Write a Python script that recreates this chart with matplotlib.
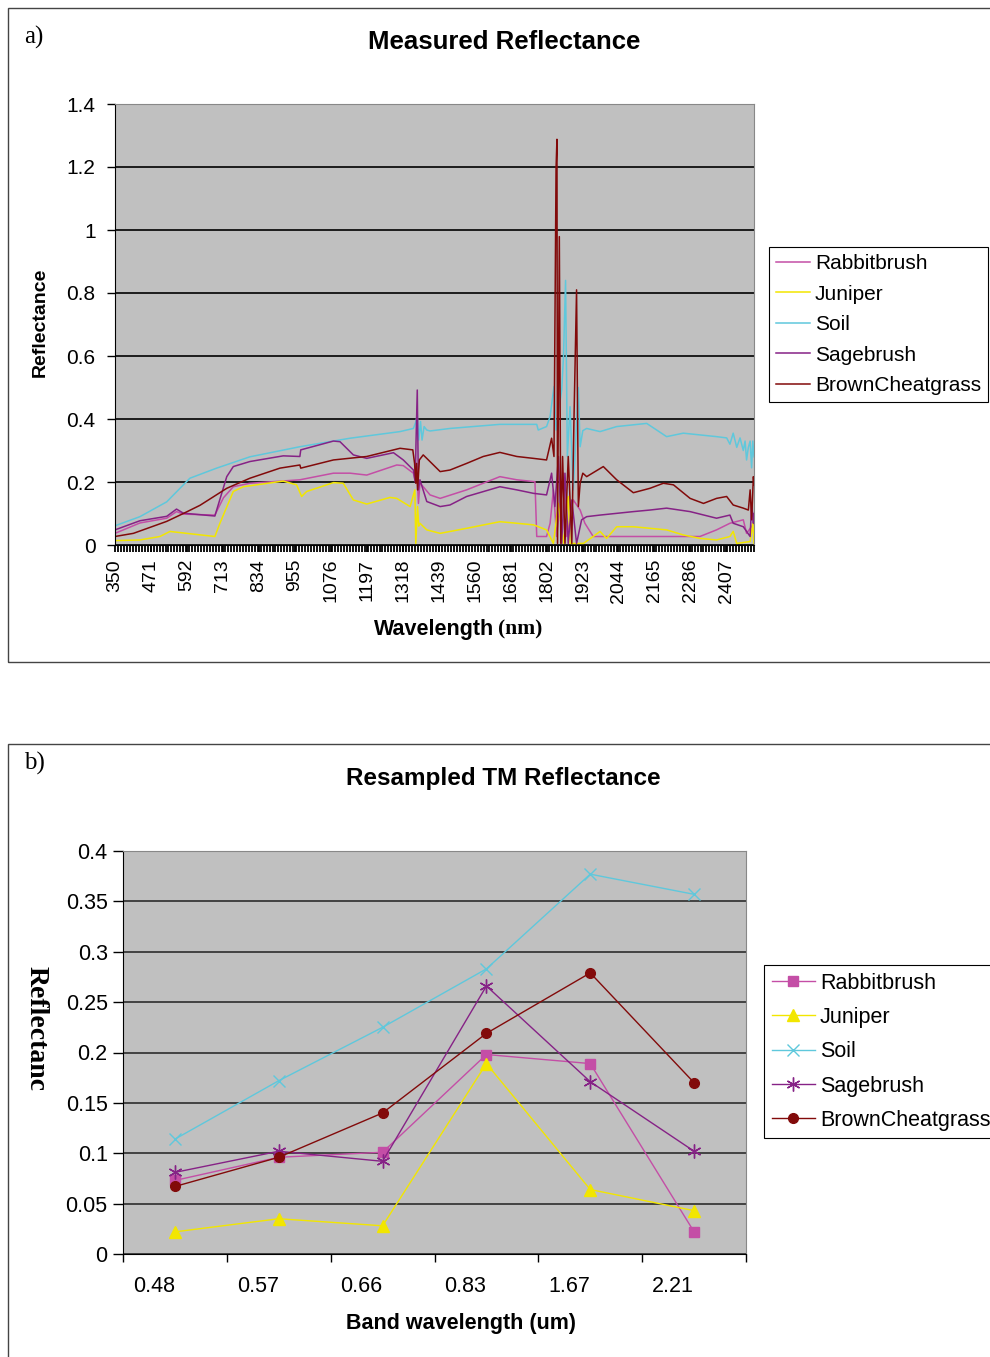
import numpy as np
import matplotlib.pyplot as plt
from matplotlib.patches import Rectangle
from matplotlib.transforms import ScaledTranslation
from matplotlib.ticker import MultipleLocator

plt.rcParams['font.family'] = 'Liberation Sans'

# --- a) field spectra (wavelength in nm, reflectance) ---
rabbit_wl = [350, 434, 524, 557, 580, 686, 715, 748, 804, 972, 1085, 1141, 1197, 1298, 1320,
             1354, 1359, 1365, 1371, 1376, 1387, 1410, 1444, 1533, 1645, 1702, 1763, 1769,
             1802, 1814, 1825, 1836, 1859, 1870, 1892, 1915, 1931, 1959, 2318, 2374, 2419,
             2464, 2475, 2500]
rabbit_val = [0.037, 0.070, 0.085, 0.106, 0.098, 0.095, 0.150, 0.185, 0.196, 0.207, 0.228,
              0.228, 0.222, 0.254, 0.252, 0.228, 0.207, 0.249, 0.132, 0.196, 0.185, 0.159,
              0.148, 0.175, 0.217, 0.207, 0.201, 0.027, 0.027, 0.069, 0.175, 0.027, 0.228,
              0.027, 0.143, 0.111, 0.069, 0.027, 0.027, 0.048, 0.069, 0.080, 0.037, 0.069]

junip_wl = [350, 434, 501, 535, 591, 686, 703, 748, 782, 916, 961, 978, 995, 1085, 1118, 1152,
            1197, 1275, 1298, 1343, 1359, 1362, 1368, 1372, 1376, 1399, 1444, 1533, 1645,
            1702, 1758, 1802, 1825, 1842, 1859, 1875, 1881, 1926, 1959, 1982, 2004, 2038,
            2094, 2150, 2206, 2262, 2318, 2374, 2419, 2430, 2442, 2487, 2496, 2500]
junip_val = [0.014, 0.016, 0.027, 0.043, 0.037, 0.027, 0.069, 0.170, 0.185, 0.203, 0.191,
             0.154, 0.170, 0.198, 0.196, 0.143, 0.130, 0.151, 0.148, 0.122, 0.175, 0.005,
             0.122, 0.060, 0.069, 0.048, 0.037, 0.053, 0.074, 0.069, 0.064, 0.048, 0.005,
             0.132, 0.005, 0.154, 0.005, 0.005, 0.027, 0.043, 0.021, 0.058, 0.058, 0.053,
             0.048, 0.032, 0.021, 0.016, 0.027, 0.043, 0.005, 0.011, 0.069, 0.005]

soil_wl = [350, 434, 524, 602, 692, 804, 972, 1141, 1309, 1354, 1362, 1367, 1372, 1378, 1383,
           1390, 1399, 1410, 1477, 1645, 1769, 1774, 1802, 1814, 1827, 1834, 1853, 1859, 1866,
           1872, 1881, 1892, 1909, 1915, 1924, 1937, 1982, 2038, 2139, 2206, 2262, 2374, 2408,
           2419, 2430, 2442, 2453, 2464, 2470, 2475, 2481, 2487, 2492, 2496, 2500]
soil_val = [0.061, 0.090, 0.137, 0.212, 0.244, 0.280, 0.312, 0.339, 0.360, 0.370, 0.390,
            0.413, 0.333, 0.392, 0.333, 0.376, 0.365, 0.362, 0.370, 0.383, 0.383, 0.365,
            0.376, 0.408, 0.503, 0.365, 0.492, 0.598, 0.840, 0.281, 0.439, 0.175, 0.500,
            0.312, 0.363, 0.370, 0.360, 0.376, 0.386, 0.344, 0.355, 0.344, 0.340, 0.320,
            0.355, 0.310, 0.340, 0.300, 0.330, 0.270, 0.310, 0.330, 0.245, 0.330, 0.280]

sage_wl = [350, 434, 524, 557, 580, 686, 726, 748, 804, 916, 972, 975, 1085, 1107, 1152, 1197,
           1287, 1320, 1354, 1360, 1363, 1367, 1371, 1376, 1399, 1444, 1477, 1533, 1645, 1702,
           1758, 1802, 1814, 1819, 1830, 1842, 1853, 1864, 1875, 1887, 1903, 1920, 1937, 1982,
           2094, 2150, 2206, 2285, 2374, 2419, 2430, 2464, 2487, 2492, 2498, 2500]
sage_val = [0.048, 0.077, 0.091, 0.114, 0.101, 0.092, 0.217, 0.249, 0.265, 0.283, 0.281,
            0.302, 0.330, 0.328, 0.286, 0.275, 0.293, 0.270, 0.238, 0.200, 0.334, 0.492,
            0.175, 0.207, 0.138, 0.122, 0.127, 0.154, 0.185, 0.175, 0.164, 0.159, 0.207,
            0.228, 0.122, 0.281, 0.005, 0.228, 0.005, 0.143, 0.005, 0.080, 0.090, 0.095,
            0.106, 0.111, 0.117, 0.106, 0.085, 0.095, 0.069, 0.058, 0.027, 0.132, 0.069, 0.100]

brown_wl = [350, 412, 524, 580, 636, 726, 804, 905, 972, 975, 1085, 1197, 1309, 1352, 1358,
            1362, 1365, 1368, 1374, 1387, 1399, 1444, 1477, 1533, 1589, 1645, 1702, 1758,
            1802, 1819, 1827, 1834, 1837, 1839, 1845, 1850, 1856, 1864, 1875, 1887, 1894,
            1903, 1909, 1915, 1924, 1937, 1993, 2038, 2094, 2150, 2195, 2229, 2285, 2330,
            2374, 2408, 2430, 2464, 2481, 2487, 2492, 2498, 2500]
brown_val = [0.027, 0.037, 0.075, 0.100, 0.126, 0.180, 0.212, 0.244, 0.254, 0.244, 0.270,
             0.281, 0.307, 0.302, 0.259, 0.196, 0.259, 0.175, 0.270, 0.286, 0.275, 0.233,
             0.238, 0.259, 0.281, 0.294, 0.281, 0.275, 0.270, 0.339, 0.281, 1.196, 1.288,
             0.005, 0.979, 0.005, 0.281, 0.005, 0.281, 0.005, 0.386, 0.810, 0.122, 0.196,
             0.228, 0.217, 0.249, 0.207, 0.166, 0.180, 0.196, 0.191, 0.148, 0.132, 0.148,
             0.154, 0.127, 0.117, 0.111, 0.175, 0.080, 0.217, 0.190]

# --- b) TM band averages ---
bands = ['0.48', '0.57', '0.66', '0.83', '1.67', '2.21']
rabbit_tm = [0.073, 0.096, 0.101, 0.198, 0.189, 0.022]
junip_tm = [0.022, 0.035, 0.028, 0.189, 0.064, 0.043]
soil_tm = [0.114, 0.172, 0.225, 0.283, 0.377, 0.357]
sage_tm = [0.081, 0.102, 0.092, 0.266, 0.171, 0.102]
brown_tm = [0.067, 0.096, 0.140, 0.219, 0.279, 0.170]

names = ['Rabbitbrush', 'Juniper', 'Soil', 'Sagebrush', 'BrownCheatgrass']
colors = ['#C44EA6', '#F2E600', '#5FC8DC', '#862286', '#820A0A']

W, H = 990, 1357
fig = plt.figure(figsize=(W / 100, H / 100), dpi=100)


def fx(px):
    return px / W


def fy(py):
    return 1 - py / H


# panel frames
fig.patches.append(Rectangle((fx(8), fy(662)), 1.2, fy(8) - fy(662), transform=fig.transFigure,
                             fill=False, edgecolor='#444444', lw=1))
fig.patches.append(Rectangle((fx(8), fy(1420)), 1.2, fy(744) - fy(1420), transform=fig.transFigure,
                             fill=False, edgecolor='#444444', lw=1))

# ---------------- a) ----------------
ax1 = fig.add_axes([fx(115), fy(545), fx(754) - fx(115), fy(104) - fy(545)])
ax1.set_facecolor('#C0C0C0')
ax1.set_axisbelow(True)
for wl, val, c, n in zip([rabbit_wl, junip_wl, soil_wl, sage_wl, brown_wl],
                         [rabbit_val, junip_val, soil_val, sage_val, brown_val], colors, names):
    ax1.plot(wl, val, color=c, lw=1.1, label=n)

ax1.set_xlim(350, 2500)
ax1.set_ylim(0, 1.4)
ax1.set_yticks(np.arange(0, 1.41, 0.2))
ax1.set_yticklabels(['0', '0.2', '0.4', '0.6', '0.8', '1', '1.2', '1.4'])
ax1.set_xticks(np.arange(350, 2501, 121))
ax1.xaxis.set_minor_locator(MultipleLocator(10))
ax1.yaxis.grid(True, color='black', lw=1.2)
ax1.tick_params(axis='x', which='both', length=5, width=1.3, direction='out')
ax1.tick_params(axis='x', which='major', labelsize=14, pad=5, labelrotation=90)
ax1.tick_params(axis='y', length=6, width=1, pad=8, labelsize=15)
for s in ['top', 'right']:
    ax1.spines[s].set_color('#888888')
for s in ['left', 'bottom']:
    ax1.spines[s].set_color('black')

leg1 = ax1.legend(loc='upper left', bbox_to_anchor=(fx(769), fy(247)), bbox_transform=fig.transFigure,
                  fancybox=False, edgecolor='black', framealpha=1, borderaxespad=0, fontsize=15,
                  handlelength=1.6, handletextpad=0.25, labelspacing=0.55, borderpad=0.35)
leg1.get_frame().set_linewidth(0.8)

fig.text(fx(24), fy(37), 'a)', family='Liberation Serif', fontsize=18, ha='left', va='center')
fig.text(fx(504), fy(42), 'Measured Reflectance', fontsize=18.5, weight='bold', ha='center', va='center')
fig.text(fx(40), fy(322), 'Reflectance', fontsize=14, weight='bold', rotation=90, ha='center', va='center')
fig.text(fx(494), fy(629), 'Wavelength', fontsize=15.5, weight='bold', ha='right', va='center')
fig.text(fx(498), fy(629), '(nm)', family='Liberation Serif', fontsize=15.5, weight='bold',
         ha='left', va='center')

# ---------------- b) ----------------
ax2 = fig.add_axes([fx(123), fy(1254), fx(746) - fx(123), fy(851) - fy(1254)])
ax2.set_facecolor('#C0C0C0')
ax2.set_axisbelow(True)
idx = np.arange(len(bands))
ax2.plot(idx, rabbit_tm, color=colors[0], lw=1, marker='s', ms=6.5, label=names[0])
ax2.plot(idx, junip_tm, color=colors[1], lw=1, marker='^', ms=8, label=names[1])
ax2.plot(idx, soil_tm, color=colors[2], lw=1, marker='x', ms=8, mew=1, label=names[2])
ax2.plot(idx, sage_tm, color=colors[3], lw=1, marker=(6, 2, 0), ms=10, mew=1, label=names[3])
ax2.plot(idx, brown_tm, color=colors[4], lw=1, marker='o', ms=7, label=names[4])

ax2.set_xlim(-0.5, len(bands) - 0.5)
ax2.set_ylim(0, 0.4)
ax2.set_yticks(np.arange(0, 0.401, 0.05))
ax2.set_yticklabels(['0', '0.05', '0.1', '0.15', '0.2', '0.25', '0.3', '0.35', '0.4'])
ax2.set_xticks(idx)
ax2.set_xticklabels(bands)
ax2.set_xticks(np.arange(-0.5, len(bands)), minor=True)
ax2.yaxis.grid(True, color='#202020', lw=1.1)
ax2.tick_params(axis='x', which='major', length=0, labelsize=15.5, pad=16)
ax2.tick_params(axis='x', which='minor', length=6, width=1)
ax2.tick_params(axis='y', length=7, width=1, pad=4, labelsize=15.5)
shift = ScaledTranslation(-0.21, 0, fig.dpi_scale_trans)
for lbl in ax2.get_xticklabels():
    lbl.set_transform(lbl.get_transform() + shift)
for s in ['top', 'right']:
    ax2.spines[s].set_color('#888888')
for s in ['left', 'bottom']:
    ax2.spines[s].set_color('black')

leg2 = ax2.legend(loc='upper left', bbox_to_anchor=(fx(764), fy(965)), bbox_transform=fig.transFigure,
                  fancybox=False, edgecolor='black', framealpha=1, borderaxespad=0, fontsize=15.5,
                  handlelength=2.0, handletextpad=0.25, labelspacing=0.62, borderpad=0.35)
leg2.get_frame().set_linewidth(0.8)

fig.text(fx(24), fy(763), 'b)', family='Liberation Serif', fontsize=18, ha='left', va='center')
fig.text(fx(503), fy(779), 'Resampled TM Reflectance', fontsize=17.5, weight='bold', ha='center', va='center')
fig.text(fx(36), fy(1028), 'Reflectanc', family='Liberation Serif', fontsize=20, weight='bold',
         rotation=-90, ha='center', va='center')
fig.text(fx(461), fy(1324), 'Band wavelength (um)', fontsize=15.5, weight='bold', ha='center', va='center')

fig.savefig('out.png', dpi=100)
